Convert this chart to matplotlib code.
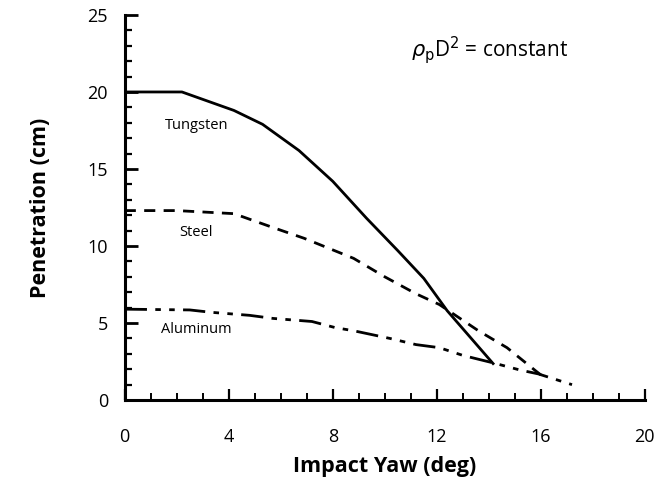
import matplotlib
matplotlib.use("Agg")
import matplotlib.pyplot as plt
from matplotlib.ticker import MultipleLocator

# values
tungsten_x = [0, 2.2, 4.2, 5.3, 6.7, 8.0, 9.3, 10.5, 11.5, 12.4, 14.2]
tungsten_y = [20, 20, 18.8, 17.9, 16.2, 14.2, 11.8, 9.7, 7.9, 5.8, 2.3]

steel_x = [0, 2.0, 4.2, 5.7, 6.9, 8.8, 10.0, 11.2, 12.1, 13.6, 14.7, 15.8, 16.1]
steel_y = [12.3, 12.3, 12.1, 11.2, 10.5, 9.2, 8.0, 6.9, 6.2, 4.5, 3.4, 1.9, 1.5]

alum_x = [0, 2.5, 3.3, 4.8, 5.7, 7.2, 8.1, 8.8, 10.2, 11.2, 12.1, 13.0, 14.2, 15.2, 15.9, 17.2]
alum_y = [5.9, 5.85, 5.7, 5.5, 5.3, 5.1, 4.7, 4.5, 4.0, 3.6, 3.4, 2.9, 2.4, 1.95, 1.7, 1.0]

x_ticks = [0, 4, 8, 12, 16, 20]
y_ticks = [0, 5, 10, 15, 20, 25]

plt.rcParams['font.family'] = ['Open Sans', 'DejaVu Sans']

fig = plt.figure(figsize=(6.6, 4.82), dpi=100)
ax = fig.add_axes([0.189, 0.170, 0.788, 0.799])

ax.plot(tungsten_x, tungsten_y, color='black', lw=2.0, solid_capstyle='butt')
ax.plot(steel_x, steel_y, color='black', lw=2.0, dashes=(4, 3))
ax.plot(alum_x, alum_y, color='black', lw=2.0, dashes=(8, 3, 2, 3, 2, 3))

ax.text(2.75, 17.85, 'Tungsten', fontsize=10.5, ha='center', va='center')
ax.text(2.75, 10.9, 'Steel', fontsize=10.5, ha='center', va='center')
ax.text(2.75, 4.55, 'Aluminum', fontsize=10.5, ha='center', va='center')
ax.text(14.05, 22.7, r'$\rho_{\rm p}$D$^2$ = constant', fontsize=15,
        ha='center', va='center')

ax.set_xlim(0, 20)
ax.set_ylim(0, 25)
ax.set_xticks(x_ticks)
ax.set_yticks(y_ticks)
ax.xaxis.set_minor_locator(MultipleLocator(1))
ax.yaxis.set_minor_locator(MultipleLocator(1))

for s in ['top', 'right']:
    ax.spines[s].set_visible(False)
for s in ['left', 'bottom']:
    ax.spines[s].set_linewidth(2.2)

ax.tick_params(axis='y', which='major', direction='in', length=9, width=2, pad=12, labelsize=13)
ax.tick_params(axis='y', which='minor', direction='in', length=5, width=1.6)
ax.tick_params(axis='x', which='major', direction='in', length=8, width=1.6, pad=20, labelsize=13)
ax.tick_params(axis='x', which='minor', direction='in', length=5, width=1.4)

ax.set_xlabel('Impact Yaw (deg)', fontsize=15.5, fontweight='bold', labelpad=7)
ax.set_ylabel('Penetration (cm)', fontsize=15.5, fontweight='bold', labelpad=26)

fig.savefig('out.png', dpi=100)
